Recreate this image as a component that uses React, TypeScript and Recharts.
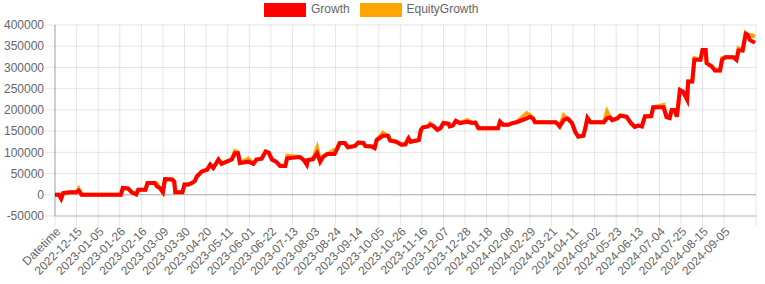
import React from 'react';
import { LineChart, Line, XAxis, YAxis, CartesianGrid, ReferenceLine } from 'recharts';

// day index (one category per day, index 0 = "Datetime")
const dayIndex = [
  0, 4, 6, 8, 15, 21, 23, 26, 64, 66, 71, 75, 79, 81, 88, 90, 97, 99, 102, 105,
  107, 114, 116, 117, 124, 126, 130, 133, 136, 138, 143, 148, 151, 154, 159, 162, 167, 172, 175, 178,
  180, 188, 193, 196, 201, 205, 208, 211, 215, 219, 224, 226, 238, 242, 245, 246, 251, 255, 258, 261,
  265, 272, 274, 277, 282, 285, 292, 295, 300, 302, 308, 311, 313, 319, 324, 326, 332, 337, 341, 344,
  346, 354, 356, 358, 363, 365, 368, 372, 375, 378, 383, 384, 387, 390, 394, 401, 406, 409, 412, 431,
  433, 436, 441, 445, 449, 459, 462, 465, 467, 487, 489, 491, 495, 498, 499, 503, 506, 509, 514, 516,
  518, 521, 534, 537, 540, 542, 547, 550, 556, 560, 564, 567, 571, 574, 580, 582, 592, 595, 598, 600,
  603, 605, 608, 611, 615, 616, 620, 622, 628, 630, 633, 634, 639, 642, 647, 649, 652, 660, 663, 665,
  669, 672, 674, 676, 678, 681,
];

const growth = [
  0, 0, -9000, 4000, 6000, 6000, 10000, 0, 0, 16000, 15000, 5000, 1000, 12000, 12000, 28000, 28000, 20000, 16000, 6000,
  37000, 36000, 31000, 6000, 6000, 24000, 24000, 28000, 32000, 43000, 55000, 59000, 71000, 63000, 83000, 73000, 78000, 83000, 98000, 98000,
  75000, 78000, 73000, 83000, 85000, 102000, 99000, 83000, 78000, 68000, 68000, 86000, 89000, 82000, 71000, 82000, 84000, 98000, 78000, 90000,
  96000, 96000, 106000, 122000, 122000, 112000, 115000, 123000, 122000, 115000, 114000, 110000, 129000, 139000, 139000, 128000, 125000, 118000, 119000, 133000,
  125000, 129000, 153000, 159000, 161000, 165000, 162000, 153000, 157000, 169000, 167000, 161000, 163000, 174000, 169000, 172000, 169000, 170000, 157000, 157000,
  172000, 165000, 165000, 169000, 171000, 180000, 184000, 180000, 171000, 171000, 167000, 161000, 176000, 180000, 179000, 169000, 149000, 137000, 139000, 157000,
  181000, 171000, 171000, 180000, 182000, 176000, 180000, 186000, 184000, 170000, 160000, 163000, 161000, 185000, 185000, 206000, 206000, 183000, 181000, 200000,
  200000, 184000, 247000, 243000, 224000, 267000, 267000, 318000, 318000, 341000, 341000, 310000, 302000, 293000, 293000, 318000, 324000, 324000, 318000, 340000,
  340000, 379000, 377000, 365000, 362000, 358000,
];

const equityGrowth = [
  0, 0, -9000, 4000, 6000, 6000, 14000, 0, 0, 16000, 15000, 5000, 1000, 12000, 12000, 28000, 28000, 26000, 16000, 6000,
  37000, 36000, 31000, 6000, 6000, 24000, 24000, 28000, 32000, 43000, 55000, 59000, 71000, 63000, 83000, 73000, 78000, 83000, 103000, 100000,
  75000, 85000, 73000, 83000, 85000, 102000, 99000, 83000, 78000, 68000, 68000, 92000, 89000, 82000, 71000, 82000, 84000, 110000, 78000, 90000,
  96000, 106000, 106000, 122000, 122000, 112000, 115000, 123000, 122000, 115000, 114000, 110000, 129000, 146000, 139000, 128000, 125000, 118000, 119000, 133000,
  125000, 129000, 153000, 159000, 161000, 168000, 162000, 153000, 157000, 169000, 167000, 161000, 163000, 174000, 169000, 176000, 169000, 170000, 157000, 157000,
  172000, 165000, 165000, 169000, 171000, 192000, 188000, 180000, 171000, 171000, 167000, 161000, 187000, 180000, 179000, 169000, 149000, 137000, 139000, 157000,
  181000, 171000, 171000, 196000, 182000, 176000, 180000, 188000, 184000, 170000, 160000, 163000, 161000, 185000, 185000, 206000, 212000, 183000, 181000, 200000,
  200000, 184000, 247000, 243000, 224000, 267000, 267000, 322000, 318000, 341000, 341000, 310000, 302000, 293000, 293000, 322000, 324000, 324000, 318000, 345000,
  340000, 381000, 377000, 375000, 376000, 372000,
];

const xTickLabels = [
  'Datetime', '2022-12-15', '2023-01-05', '2023-01-26', '2023-02-16', '2023-03-09', '2023-03-30',
  '2023-04-20', '2023-05-11', '2023-06-01', '2023-06-22', '2023-07-13', '2023-08-03', '2023-08-24',
  '2023-09-14', '2023-10-05', '2023-10-26', '2023-11-16', '2023-12-07', '2023-12-28', '2024-01-18',
  '2024-02-08', '2024-02-29', '2024-03-21', '2024-04-11', '2024-05-02', '2024-05-23', '2024-06-13',
  '2024-07-04', '2024-07-25', '2024-08-15', '2024-09-05',
];
const daysPerLabel = 21;
const lastDayIndex = 682;

const yTicks = [-50000, 0, 50000, 100000, 150000, 200000, 250000, 300000, 350000, 400000];

const seriesNames = ['Growth', 'EquityGrowth'];
const seriesColors = ['#ff0000', '#ffa500'];

const data = dayIndex.map((d, i) => ({ d, Growth: growth[i], EquityGrowth: equityGrowth[i] }));
const xTicks = [...xTickLabels.map((_, i) => i * daysPerLabel), lastDayIndex];

const FONT = 'Arial, "Liberation Sans", Helvetica, sans-serif';

const XTick = (props: any) => {
  const { x, y, payload } = props;
  const idx = Math.round(payload.value / daysPerLabel);
  const label = payload.value % daysPerLabel === 0 && idx < xTickLabels.length ? xTickLabels[idx] : '';
  const ax = x + 4;
  const ay = y + 2;
  return (
    <text
      x={ax}
      y={ay}
      transform={`rotate(-45, ${ax}, ${ay})`}
      textAnchor="end"
      dominantBaseline="middle"
      fill="#666"
      fontSize={12}
      fontFamily={FONT}
    >
      {label}
    </text>
  );
};

export default function App() {
  return (
    <div style={{ position: 'absolute', left: 0, top: 0, width: 765, height: 284, fontFamily: FONT }}>
      <LineChart
        width={765}
        height={284}
        data={data}
        margin={{ top: 25, right: 9, bottom: 0, left: 0 }}
      >
        <CartesianGrid stroke="rgba(0,0,0,0.1)" />
        <XAxis
          dataKey="d"
          type="number"
          domain={[0, lastDayIndex]}
          ticks={xTicks}
          interval={0}
          height={68}
          tickSize={10}
          tickMargin={2}
          axisLine={{ stroke: 'rgba(0,0,0,0.2)' }}
          tickLine={{ stroke: 'rgba(0,0,0,0.1)' }}
          tick={<XTick />}
          allowDataOverflow
        />
        <YAxis
          type="number"
          domain={[-50000, 400000]}
          ticks={yTicks}
          interval={0}
          width={55}
          tickSize={10}
          tickMargin={1}
          axisLine={{ stroke: 'rgba(0,0,0,0.3)' }}
          tickLine={{ stroke: 'rgba(0,0,0,0.1)' }}
          tick={{ fill: '#666', fontSize: 12, fontFamily: FONT }}
          allowDataOverflow
        />
        <ReferenceLine y={0} stroke="rgba(0,0,0,0.25)" />
        <Line
          type="linear"
          dataKey="EquityGrowth"
          stroke={seriesColors[1]}
          strokeWidth={4}
          dot={false}
          activeDot={false}
          isAnimationActive={false}
        />
        <Line
          type="linear"
          dataKey="Growth"
          stroke={seriesColors[0]}
          strokeWidth={4}
          dot={false}
          activeDot={false}
          isAnimationActive={false}
        />
      </LineChart>
      <div style={{ position: 'absolute', left: 0, top: 0, width: 765, height: 20, pointerEvents: 'none' }}>
        {seriesNames.map((name, i) => {
          const left = i === 0 ? 264 : 359.5;
          return (
            <div key={name} style={{ position: 'absolute', left, top: 2, height: 15, display: 'flex', alignItems: 'center', whiteSpace: 'nowrap' }}>
              <span style={{ display: 'inline-block', width: 40, height: 12, background: seriesColors[i], border: `1.5px solid ${seriesColors[i]}` }} />
              <span style={{ marginLeft: 5, fontSize: 12, color: '#666', fontFamily: FONT, lineHeight: '15px' }}>{name}</span>
            </div>
          );
        })}
      </div>
    </div>
  );
}
